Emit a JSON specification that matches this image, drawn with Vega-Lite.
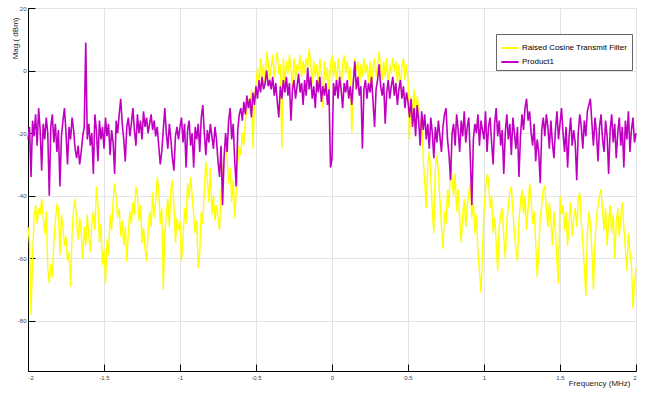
{
"$schema": "https://vega.github.io/schema/vega-lite/v6.json",
"width": 608, "height": 363,
"autosize": {"type": "none"},
"padding": {"left": 28, "top": 8, "right": 14, "bottom": 22},
"background": "white",
"config": {
 "view": {"stroke": null},
 "font": "Liberation Sans",
 "axis": {"grid": true, "gridColor": "#e3e3e3", "gridWidth": 1, "domainColor": "#000", "domainWidth": 1, "tickColor": "#000", "tickWidth": 1, "tickSize": -7, "labelFontSize": 6, "labelColor": "#444", "titleFontWeight": "normal", "titleFontSize": 8, "titleColor": "#222"},
 "legend": {"orient": "none", "legendX": 468, "legendY": 26, "direction": "vertical", "symbolType": "stroke", "symbolSize": 300, "symbolStrokeWidth": 2, "labelFontSize": 8, "labelColor": "#000", "padding": 4, "strokeColor": "#666", "fillColor": "#fff", "rowPadding": 0, "labelOffset": 2, "labelLimit": 200}
},
"data": {"values": [
{"f":-2,"a":-50,"b":-22},{"f":-1.99,"a":-55,"b":-18},{"f":-1.98,"a":-78,"b":-34},{"f":-1.97,"a":-60,"b":-16},{"f":-1.96,"a":-47,"b":-21},{"f":-1.95,"a":-43,"b":-14},{"f":-1.94,"a":-49,"b":-24},{"f":-1.93,"a":-44,"b":-12},{"f":-1.92,"a":-46,"b":-19},{"f":-1.91,"a":-41,"b":-32},
{"f":-1.9,"a":-47,"b":-17},{"f":-1.89,"a":-52,"b":-22},{"f":-1.88,"a":-45,"b":-15},{"f":-1.87,"a":-63,"b":-20},{"f":-1.86,"a":-68,"b":-40},{"f":-1.85,"a":-62,"b":-18},{"f":-1.84,"a":-66,"b":-14},{"f":-1.83,"a":-55,"b":-23},{"f":-1.82,"a":-48,"b":-17},{"f":-1.81,"a":-43,"b":-26},
{"f":-1.8,"a":-44,"b":-19},{"f":-1.79,"a":-59,"b":-37},{"f":-1.78,"a":-46,"b":-21},{"f":-1.77,"a":-50,"b":-16},{"f":-1.76,"a":-56,"b":-12},{"f":-1.75,"a":-53,"b":-20},{"f":-1.74,"a":-61,"b":-30},{"f":-1.73,"a":-58,"b":-18},{"f":-1.72,"a":-69,"b":-22},{"f":-1.71,"a":-52,"b":-15},
{"f":-1.7,"a":-44,"b":-19},{"f":-1.69,"a":-41,"b":-25},{"f":-1.68,"a":-48,"b":-28},{"f":-1.67,"a":-54,"b":-24},{"f":-1.66,"a":-47,"b":-30},{"f":-1.65,"a":-52,"b":-26},{"f":-1.64,"a":-60,"b":-21},{"f":-1.63,"a":-50,"b":-18},{"f":-1.62,"a":-56,"b":9},{"f":-1.61,"a":-46,"b":-22},
{"f":-1.6,"a":-53,"b":-17},{"f":-1.59,"a":-58,"b":-24},{"f":-1.58,"a":-49,"b":-20},{"f":-1.57,"a":-45,"b":-33},{"f":-1.56,"a":-51,"b":-14},{"f":-1.55,"a":-37,"b":-19},{"f":-1.54,"a":-43,"b":-29},{"f":-1.53,"a":-55,"b":-16},{"f":-1.52,"a":-49,"b":-22},{"f":-1.51,"a":-62,"b":-18},
{"f":-1.5,"a":-57,"b":-25},{"f":-1.49,"a":-68,"b":-15},{"f":-1.48,"a":-54,"b":-21},{"f":-1.47,"a":-59,"b":-17},{"f":-1.46,"a":-46,"b":-27},{"f":-1.45,"a":-51,"b":-19},{"f":-1.44,"a":-42,"b":-23},{"f":-1.43,"a":-36,"b":-33},{"f":-1.42,"a":-41,"b":-16},{"f":-1.41,"a":-47,"b":-20},
{"f":-1.4,"a":-44,"b":-14},{"f":-1.39,"a":-53,"b":-9},{"f":-1.38,"a":-48,"b":-17},{"f":-1.37,"a":-56,"b":-22},{"f":-1.36,"a":-50,"b":-29},{"f":-1.35,"a":-61,"b":-18},{"f":-1.34,"a":-52,"b":-15},{"f":-1.33,"a":-45,"b":-21},{"f":-1.32,"a":-49,"b":-17},{"f":-1.31,"a":-42,"b":-12},
{"f":-1.3,"a":-46,"b":-19},{"f":-1.29,"a":-37,"b":-24},{"f":-1.28,"a":-40,"b":-14},{"f":-1.27,"a":-48,"b":-20},{"f":-1.26,"a":-43,"b":-16},{"f":-1.25,"a":-55,"b":-22},{"f":-1.24,"a":-50,"b":-13},{"f":-1.23,"a":-57,"b":-18},{"f":-1.22,"a":-61,"b":-15},{"f":-1.21,"a":-52,"b":-20},
{"f":-1.2,"a":-45,"b":-17},{"f":-1.19,"a":-50,"b":-14},{"f":-1.18,"a":-39,"b":-19},{"f":-1.17,"a":-47,"b":-16},{"f":-1.16,"a":-42,"b":-21},{"f":-1.15,"a":-34,"b":-18},{"f":-1.14,"a":-38,"b":-24},{"f":-1.13,"a":-49,"b":-30},{"f":-1.12,"a":-44,"b":-26},{"f":-1.11,"a":-70,"b":-19},
{"f":-1.1,"a":-52,"b":-12},{"f":-1.09,"a":-46,"b":-20},{"f":-1.08,"a":-41,"b":-25},{"f":-1.07,"a":-50,"b":-17},{"f":-1.06,"a":-38,"b":-22},{"f":-1.05,"a":-35,"b":-28},{"f":-1.04,"a":-43,"b":-32},{"f":-1.03,"a":-55,"b":-21},{"f":-1.02,"a":-47,"b":-18},{"f":-1.01,"a":-51,"b":-22},
{"f":-1,"a":-48,"b":-18},{"f":-0.99,"a":-61,"b":-15},{"f":-0.98,"a":-54,"b":-23},{"f":-0.97,"a":-44,"b":-17},{"f":-0.96,"a":-49,"b":-31},{"f":-0.95,"a":-36,"b":-19},{"f":-0.94,"a":-41,"b":-16},{"f":-0.93,"a":-34,"b":-24},{"f":-0.92,"a":-40,"b":-20},{"f":-0.91,"a":-46,"b":-31},
{"f":-0.9,"a":-52,"b":-18},{"f":-0.89,"a":-48,"b":-22},{"f":-0.88,"a":-63,"b":-17},{"f":-0.87,"a":-58,"b":-26},{"f":-0.86,"a":-45,"b":-15},{"f":-0.85,"a":-49,"b":-11},{"f":-0.84,"a":-38,"b":-20},{"f":-0.83,"a":-29,"b":-27},{"f":-0.82,"a":-35,"b":-19},{"f":-0.81,"a":-42,"b":-23},
{"f":-0.8,"a":-31,"b":-17},{"f":-0.79,"a":-46,"b":-21},{"f":-0.78,"a":-40,"b":-25},{"f":-0.77,"a":-48,"b":-18},{"f":-0.76,"a":-43,"b":-22},{"f":-0.75,"a":-47,"b":-29},{"f":-0.74,"a":-51,"b":-34},{"f":-0.73,"a":-39,"b":-24},{"f":-0.72,"a":-33,"b":-43},{"f":-0.71,"a":-27,"b":-28},
{"f":-0.7,"a":-23,"b":-20},{"f":-0.69,"a":-28,"b":-26},{"f":-0.68,"a":-36,"b":-16},{"f":-0.67,"a":-31,"b":-12},{"f":-0.66,"a":-42,"b":-22},{"f":-0.65,"a":-35,"b":-17},{"f":-0.64,"a":-47,"b":-29},{"f":-0.63,"a":-39,"b":-37},{"f":-0.62,"a":-29,"b":-19},{"f":-0.61,"a":-24,"b":-14},
{"f":-0.6,"a":-27,"b":-12},{"f":-0.59,"a":-20,"b":-16},{"f":-0.58,"a":-24,"b":-10},{"f":-0.57,"a":-16,"b":-14},{"f":-0.56,"a":-13,"b":-8},{"f":-0.55,"a":-9,"b":-12},{"f":-0.54,"a":-14,"b":-9},{"f":-0.53,"a":-6,"b":-15},{"f":-0.52,"a":-25,"b":-7},{"f":-0.51,"a":-10,"b":-11},
{"f":-0.5,"a":-4,"b":-5},{"f":-0.49,"a":1,"b":-9},{"f":-0.48,"a":-6,"b":-3},{"f":-0.47,"a":4,"b":-7},{"f":-0.46,"a":-2,"b":-2},{"f":-0.45,"a":2,"b":-6},{"f":-0.44,"a":-5,"b":-4},{"f":-0.43,"a":6,"b":0},{"f":-0.42,"a":3,"b":-5},{"f":-0.41,"a":-3,"b":-3},
{"f":-0.4,"a":1,"b":-6},{"f":-0.39,"a":5,"b":-2},{"f":-0.38,"a":-2,"b":-8},{"f":-0.37,"a":3,"b":-4},{"f":-0.36,"a":6,"b":-10},{"f":-0.35,"a":-1,"b":-15},{"f":-0.34,"a":2,"b":-5},{"f":-0.33,"a":-25,"b":-9},{"f":-0.32,"a":4,"b":-3},{"f":-0.31,"a":-4,"b":-7},
{"f":-0.3,"a":3,"b":-2},{"f":-0.29,"a":-1,"b":-8},{"f":-0.28,"a":5,"b":-4},{"f":-0.27,"a":1,"b":-16},{"f":-0.26,"a":-6,"b":-6},{"f":-0.25,"a":4,"b":-3},{"f":-0.24,"a":-3,"b":-9},{"f":-0.23,"a":2,"b":-5},{"f":-0.22,"a":0,"b":-1},{"f":-0.21,"a":5,"b":-7},
{"f":-0.2,"a":-2,"b":-4},{"f":-0.19,"a":3,"b":-11},{"f":-0.18,"a":-1,"b":-3},{"f":-0.17,"a":4,"b":-8},{"f":-0.16,"a":1,"b":1},{"f":-0.15,"a":7,"b":-6},{"f":-0.14,"a":2,"b":-2},{"f":-0.13,"a":-4,"b":-9},{"f":-0.12,"a":3,"b":-5},{"f":-0.11,"a":-2,"b":-12},
{"f":-0.1,"a":2,"b":-3},{"f":-0.09,"a":-5,"b":-7},{"f":-0.08,"a":4,"b":-2},{"f":-0.07,"a":-1,"b":-10},{"f":-0.06,"a":-12,"b":-5},{"f":-0.05,"a":3,"b":-8},{"f":-0.04,"a":-3,"b":-4},{"f":-0.03,"a":1,"b":-11},{"f":-0.02,"a":-8,"b":-6},{"f":-0.01,"a":2,"b":-31},
{"f":0,"a":5,"b":-28},{"f":0.01,"a":-2,"b":-4},{"f":0.02,"a":3,"b":-8},{"f":0.03,"a":-5,"b":-3},{"f":0.04,"a":4,"b":-9},{"f":0.05,"a":0,"b":-2},{"f":0.06,"a":-6,"b":-6},{"f":0.07,"a":2,"b":-12},{"f":0.08,"a":5,"b":-4},{"f":0.09,"a":-1,"b":-7},
{"f":0.1,"a":3,"b":-3},{"f":0.11,"a":-3,"b":-9},{"f":0.12,"a":1,"b":-5},{"f":0.13,"a":-20,"b":-11},{"f":0.14,"a":-4,"b":-4},{"f":0.15,"a":4,"b":3},{"f":0.16,"a":0,"b":-6},{"f":0.17,"a":3,"b":-2},{"f":0.18,"a":-5,"b":-8},{"f":0.19,"a":2,"b":-5},
{"f":0.2,"a":-2,"b":-25},{"f":0.21,"a":4,"b":-6},{"f":0.22,"a":-1,"b":-3},{"f":0.23,"a":2,"b":-9},{"f":0.24,"a":-4,"b":-4},{"f":0.25,"a":3,"b":-7},{"f":0.26,"a":-7,"b":-2},{"f":0.27,"a":1,"b":-10},{"f":0.28,"a":4,"b":-18},{"f":0.29,"a":-2,"b":-6},
{"f":0.3,"a":2,"b":-3},{"f":0.31,"a":6,"b":2},{"f":0.32,"a":1,"b":-5},{"f":0.33,"a":-3,"b":-8},{"f":0.34,"a":3,"b":-4},{"f":0.35,"a":-2,"b":-17},{"f":0.36,"a":4,"b":-7},{"f":0.37,"a":-5,"b":-3},{"f":0.38,"a":2,"b":-9},{"f":0.39,"a":-1,"b":-5},
{"f":0.4,"a":4,"b":-2},{"f":0.41,"a":0,"b":-8},{"f":0.42,"a":3,"b":-4},{"f":0.43,"a":-4,"b":-11},{"f":0.44,"a":2,"b":-6},{"f":0.45,"a":-6,"b":-3},{"f":0.46,"a":1,"b":-9},{"f":0.47,"a":4,"b":-5},{"f":0.48,"a":-3,"b":-12},{"f":0.49,"a":2,"b":-7},
{"f":0.5,"a":-3,"b":-10},{"f":0.51,"a":-22,"b":-15},{"f":0.52,"a":-8,"b":-9},{"f":0.53,"a":-14,"b":-18},{"f":0.54,"a":-6,"b":-12},{"f":0.55,"a":-17,"b":-21},{"f":0.56,"a":-8,"b":-11},{"f":0.57,"a":-12,"b":-16},{"f":0.58,"a":-20,"b":-24},{"f":0.59,"a":-15,"b":-13},
{"f":0.6,"a":-28,"b":-19},{"f":0.61,"a":-36,"b":-14},{"f":0.62,"a":-44,"b":-22},{"f":0.63,"a":-30,"b":-17},{"f":0.64,"a":-26,"b":-25},{"f":0.65,"a":-34,"b":-15},{"f":0.66,"a":-45,"b":-20},{"f":0.67,"a":-52,"b":-28},{"f":0.68,"a":-31,"b":-18},{"f":0.69,"a":-27,"b":-23},
{"f":0.7,"a":-33,"b":-16},{"f":0.71,"a":-41,"b":-21},{"f":0.72,"a":-50,"b":-26},{"f":0.73,"a":-57,"b":-18},{"f":0.74,"a":-45,"b":-14},{"f":0.75,"a":-49,"b":-12},{"f":0.76,"a":-38,"b":-22},{"f":0.77,"a":-44,"b":-27},{"f":0.78,"a":-28,"b":-35},{"f":0.79,"a":-35,"b":-20},
{"f":0.8,"a":-40,"b":-17},{"f":0.81,"a":-33,"b":-24},{"f":0.82,"a":-45,"b":-14},{"f":0.83,"a":-38,"b":-19},{"f":0.84,"a":-48,"b":-26},{"f":0.85,"a":-55,"b":-16},{"f":0.86,"a":-46,"b":-21},{"f":0.87,"a":-41,"b":-13},{"f":0.88,"a":-50,"b":-23},{"f":0.89,"a":-43,"b":-18},
{"f":0.9,"a":-39,"b":-15},{"f":0.91,"a":-36,"b":-28},{"f":0.92,"a":-47,"b":-43},{"f":0.93,"a":-42,"b":-22},{"f":0.94,"a":-52,"b":-17},{"f":0.95,"a":-46,"b":-20},{"f":0.96,"a":-58,"b":-14},{"f":0.97,"a":-64,"b":-24},{"f":0.98,"a":-71,"b":-16},{"f":0.99,"a":-58,"b":-19},
{"f":1,"a":-45,"b":-22},{"f":1.01,"a":-38,"b":-13},{"f":1.02,"a":-33,"b":-26},{"f":1.03,"a":-35,"b":-18},{"f":1.04,"a":-44,"b":-15},{"f":1.05,"a":-40,"b":-23},{"f":1.06,"a":-52,"b":-30},{"f":1.07,"a":-47,"b":-17},{"f":1.08,"a":-55,"b":-12},{"f":1.09,"a":-64,"b":-21},
{"f":1.1,"a":-50,"b":-16},{"f":1.11,"a":-46,"b":-24},{"f":1.12,"a":-44,"b":-19},{"f":1.13,"a":-53,"b":-33},{"f":1.14,"a":-60,"b":-20},{"f":1.15,"a":-49,"b":-14},{"f":1.16,"a":-43,"b":-22},{"f":1.17,"a":-39,"b":-17},{"f":1.18,"a":-37,"b":-27},{"f":1.19,"a":-45,"b":-15},
{"f":1.2,"a":-52,"b":-20},{"f":1.21,"a":-57,"b":-25},{"f":1.22,"a":-61,"b":-18},{"f":1.23,"a":-48,"b":-34},{"f":1.24,"a":-42,"b":-21},{"f":1.25,"a":-38,"b":-14},{"f":1.26,"a":-46,"b":-19},{"f":1.27,"a":-40,"b":-12},{"f":1.28,"a":-51,"b":-9},{"f":1.29,"a":-44,"b":-16},
{"f":1.3,"a":-36,"b":-13},{"f":1.31,"a":-41,"b":-20},{"f":1.32,"a":-49,"b":-24},{"f":1.33,"a":-45,"b":-17},{"f":1.34,"a":-55,"b":-29},{"f":1.35,"a":-66,"b":-22},{"f":1.36,"a":-58,"b":-26},{"f":1.37,"a":-47,"b":-36},{"f":1.38,"a":-43,"b":-19},{"f":1.39,"a":-38,"b":-15},
{"f":1.4,"a":-37,"b":-21},{"f":1.41,"a":-44,"b":-14},{"f":1.42,"a":-50,"b":-18},{"f":1.43,"a":-42,"b":-25},{"f":1.44,"a":-48,"b":-16},{"f":1.45,"a":-56,"b":-23},{"f":1.46,"a":-45,"b":-28},{"f":1.47,"a":-52,"b":-19},{"f":1.48,"a":-61,"b":-13},{"f":1.49,"a":-68,"b":-22},
{"f":1.5,"a":-40,"b":-17},{"f":1.51,"a":-46,"b":-12},{"f":1.52,"a":-43,"b":-20},{"f":1.53,"a":-51,"b":-26},{"f":1.54,"a":-45,"b":-18},{"f":1.55,"a":-56,"b":-31},{"f":1.56,"a":-48,"b":-21},{"f":1.57,"a":-42,"b":-15},{"f":1.58,"a":-53,"b":-24},{"f":1.59,"a":-47,"b":-19},
{"f":1.6,"a":-44,"b":-23},{"f":1.61,"a":-50,"b":-35},{"f":1.62,"a":-41,"b":-20},{"f":1.63,"a":-39,"b":-14},{"f":1.64,"a":-48,"b":-18},{"f":1.65,"a":-55,"b":-25},{"f":1.66,"a":-63,"b":-16},{"f":1.67,"a":-72,"b":-21},{"f":1.68,"a":-52,"b":-13},{"f":1.69,"a":-45,"b":-11},
{"f":1.7,"a":-49,"b":-9},{"f":1.71,"a":-58,"b":-17},{"f":1.72,"a":-70,"b":-24},{"f":1.73,"a":-55,"b":-15},{"f":1.74,"a":-47,"b":-20},{"f":1.75,"a":-43,"b":-29},{"f":1.76,"a":-40,"b":-18},{"f":1.77,"a":-38,"b":-14},{"f":1.78,"a":-45,"b":-22},{"f":1.79,"a":-51,"b":-26},
{"f":1.8,"a":-44,"b":-16},{"f":1.81,"a":-56,"b":-21},{"f":1.82,"a":-48,"b":-33},{"f":1.83,"a":-43,"b":-19},{"f":1.84,"a":-52,"b":-14},{"f":1.85,"a":-46,"b":-23},{"f":1.86,"a":-60,"b":-17},{"f":1.87,"a":-49,"b":-28},{"f":1.88,"a":-44,"b":-20},{"f":1.89,"a":-53,"b":-15},
{"f":1.9,"a":-47,"b":-24},{"f":1.91,"a":-42,"b":-18},{"f":1.92,"a":-50,"b":-31},{"f":1.93,"a":-57,"b":-16},{"f":1.94,"a":-64,"b":-22},{"f":1.95,"a":-52,"b":-13},{"f":1.96,"a":-58,"b":-26},{"f":1.97,"a":-62,"b":-19},{"f":1.98,"a":-76,"b":-15},{"f":1.99,"a":-68,"b":-23},
{"f":2,"a":-63,"b":-20}
]},
"encoding": {
 "x": {"field": "f", "type": "quantitative", "scale": {"domain": [-2, 2], "nice": false, "zero": false},
  "axis": {"values": [-2, -1.5, -1, -0.5, 0, 0.5, 1, 1.5, 2], "labelExpr": "'' + datum.value", "labelPadding": 10, "title": "Frequency (MHz)", "titleX": 602, "titleY": 12, "titleAlign": "right", "titleBaseline": "middle", "titleAnchor": null}}
},
"layer": [
 {"mark": {"type": "line", "strokeWidth": 1.4, "interpolate": "linear"},
  "encoding": {
   "y": {"field": "a", "type": "quantitative", "scale": {"domain": [-96, 20], "nice": false, "zero": false},
    "axis": {"values": [-80, -60, -40, -20, 0, 20], "labelExpr": "'' + datum.value", "labelPadding": 9, "title": "Mag.( dBm)", "titleX": -13, "titleY": 9, "titleAngle": 270, "titleAlign": "right", "titleBaseline": "middle", "titleAnchor": null}},
   "color": {"datum": "Raised Cosine Transmit Filter", "type": "nominal", "scale": {"domain": ["Raised Cosine Transmit Filter", "Product1"], "range": ["#ffff00", "#c000c0"]}, "legend": {"title": null}}
  }},
 {"mark": {"type": "line", "strokeWidth": 1.6, "interpolate": "linear"},
  "encoding": {
   "y": {"field": "b", "type": "quantitative", "scale": {"domain": [-96, 20], "nice": false, "zero": false},
    "axis": {"values": [-80, -60, -40, -20, 0, 20], "labelExpr": "'' + datum.value", "labelPadding": 9, "title": "Mag.( dBm)", "titleX": -13, "titleY": 9, "titleAngle": 270, "titleAlign": "right", "titleBaseline": "middle", "titleAnchor": null}},
   "color": {"datum": "Product1", "type": "nominal"}
  }}
]
}
